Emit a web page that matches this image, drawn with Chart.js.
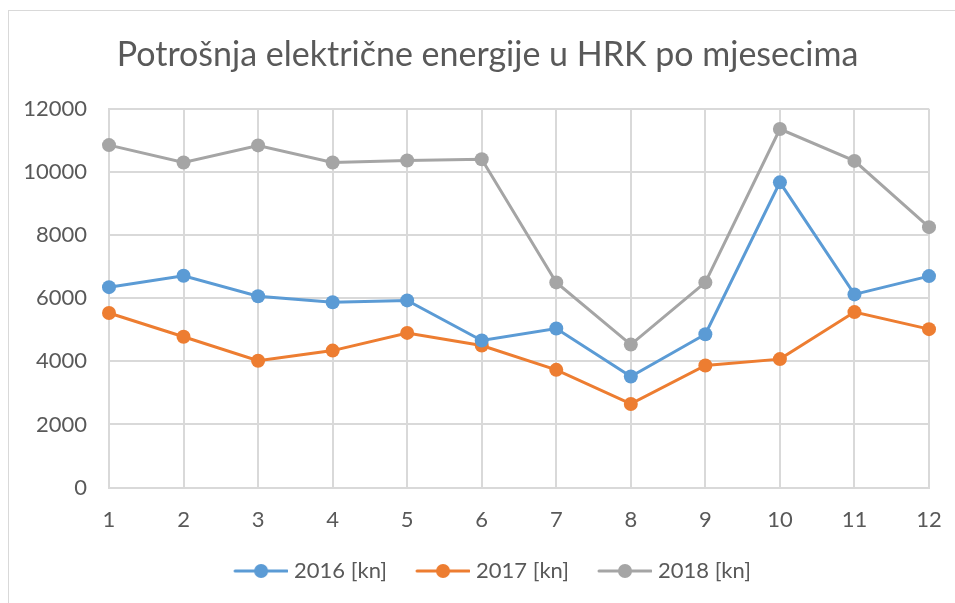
<!DOCTYPE html>
<html>
<head>
<meta charset="utf-8">
<script src="https://cdn.jsdelivr.net/npm/chart.js@4"></script>
<style>
    html, body { margin: 0; padding: 0; background: #ffffff; overflow: hidden; }
    #wrap { position: relative; width: 955px; height: 603px; }
    #frame {
        position: absolute; left: 8px; top: 10px; width: 1000px; height: 700px;
        border-left: 1px solid #d9d9d9; border-top: 1px solid #d9d9d9;
        pointer-events: none;
    }
</style>
</head>
<body>
<div id="wrap">
    <canvas id="energyChart" width="955" height="603"></canvas>
    <div id="frame"></div>
</div>
<script>
// Mjeseci (x os)
const months = ['1', '2', '3', '4', '5', '6', '7', '8', '9', '10', '11', '12'];

// Potrošnja po godinama, u kunama
const values2016 = [6350, 6710, 6060, 5870, 5930, 4660, 5040, 3520, 4860, 9670, 6120, 6700];
const values2017 = [5530, 4780, 4020, 4340, 4900, 4500, 3730, 2650, 3870, 4070, 5560, 5020];
const values2018 = [10850, 10300, 10840, 10300, 10360, 10400, 6500, 4530, 6500, 11360, 10350, 8250];

const seriesNames = ['2016 [kn]', '2017 [kn]', '2018 [kn]'];
const seriesColors = ['#5b9bd5', '#ed7d31', '#a5a5a5'];

const yTickValues = [0, 2000, 4000, 6000, 8000, 10000, 12000];

const textColor = '#595959';
const gridColor = '#d9d9d9';
const fontFamily = "Lato, 'Open Sans', sans-serif";

// legend marker: short line with a dot in the middle.
// The blank left part of the image works as the gap between legend items,
// so the legend padding can stay small vertically.
function legendMarker(color) {
    const c = document.createElement('canvas');
    c.width = 80;
    c.height = 16;
    const g = c.getContext('2d');
    g.strokeStyle = color;
    g.lineWidth = 3;
    g.lineCap = 'round';
    g.beginPath();
    g.moveTo(27, 8);
    g.lineTo(79, 8);
    g.stroke();
    g.fillStyle = color;
    g.beginPath();
    g.arc(53, 8, 7, 0, Math.PI * 2);
    g.fill();
    return c;
}

const allValues = [values2016, values2017, values2018];

const datasets = allValues.map((vals, i) => ({
    label: seriesNames[i],
    data: vals,
    borderColor: seriesColors[i],
    backgroundColor: seriesColors[i],
    borderWidth: 3,
    pointRadius: 7,
    pointHoverRadius: 7,
    pointBorderWidth: 0,
    pointStyle: 'circle',
    tension: 0
}));

const markers = seriesColors.map(legendMarker);

// Excel centres title and legend a bit to the right of the canvas centre
const shiftBlocks = {
    id: 'shiftBlocks',
    afterLayout(chart) {
        chart.titleBlock.left += 23;
        chart.titleBlock.right += 23;
        chart.legend.left += 17.5;
        chart.legend.right += 17.5;
    }
};

const ctx = document.getElementById('energyChart').getContext('2d');

new Chart(ctx, {
    type: 'line',
    data: {
        labels: months,
        datasets: datasets
    },
    plugins: [shiftBlocks],
    options: {
        responsive: false,
        animation: false,
        layout: {
            padding: { left: 0, right: 26, top: 20, bottom: 11 }
        },
        plugins: {
            title: {
                display: true,
                text: 'Potrošnja električne energije u HRK po mjesecima',
                color: textColor,
                font: { size: 34, weight: 'normal', family: fontFamily },
                padding: { top: 15, bottom: 33 }
            },
            legend: {
                position: 'bottom',
                labels: {
                    color: textColor,
                    font: { size: 22, family: fontFamily },
                    usePointStyle: true,
                    pointStyleWidth: 70,
                    padding: 8,
                    generateLabels: (chart) => datasets.map((d, i) => ({
                        text: d.label,
                        fillStyle: d.backgroundColor,
                        strokeStyle: d.borderColor,
                        lineWidth: 0,
                        pointStyle: markers[i],
                        fontColor: textColor,
                        hidden: false,
                        datasetIndex: i
                    }))
                }
            },
            tooltip: { enabled: false }
        },
        scales: {
            x: {
                afterFit: (scale) => {
                    scale.paddingLeft = 0;
                    scale.paddingRight = 0;
                },
                grid: { color: gridColor, lineWidth: 2, drawTicks: false },
                border: { color: gridColor, width: 2 },
                ticks: {
                    color: textColor,
                    font: { size: 22, family: fontFamily },
                    padding: 19,
                    maxRotation: 0
                }
            },
            y: {
                min: 0,
                max: 12000,
                afterBuildTicks: (scale) => {
                    scale.ticks = yTickValues.map(v => ({ value: v }));
                },
                afterFit: (scale) => {
                    scale.width = 109;
                },
                grid: { color: gridColor, lineWidth: 2, drawTicks: false },
                border: { color: gridColor, width: 2 },
                ticks: {
                    color: textColor,
                    font: { size: 22, family: fontFamily },
                    padding: 22,
                    callback: (value) => String(value)
                }
            }
        }
    }
});
</script>
</body>
</html>
